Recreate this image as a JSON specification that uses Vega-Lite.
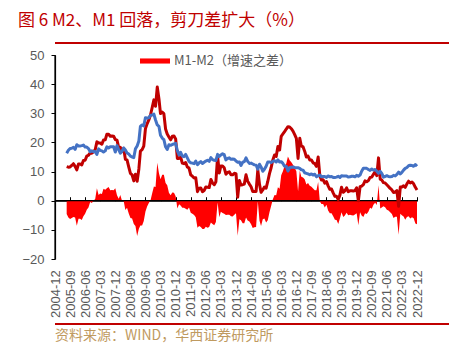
{
"$schema": "https://vega.github.io/schema/vega-lite/v6.json",
"background": "white",
"padding": {"left": 16, "top": 12, "right": 10, "bottom": 5},
"title": {"text": "图 6 M2、M1 回落，剪刀差扩大（%）", "anchor": "start", "frame": "bounds", "font": "Noto Sans CJK SC", "fontSize": 17, "fontWeight": "normal", "color": "#C00000", "offset": 12, "dx": 2},
"spacing": 5,
"datasets": {"money": [
{"d":"2005-07-01","m1":11.7,"m2":16.3,"s":-4.6},
{"d":"2005-08-01","m1":11.5,"m2":17.3,"s":-5.8},
{"d":"2005-09-01","m1":11.6,"m2":17.9,"s":-6.3},
{"d":"2005-10-01","m1":12.1,"m2":18.0,"s":-5.9},
{"d":"2005-11-01","m1":12.7,"m2":18.3,"s":-5.6},
{"d":"2005-12-01","m1":11.8,"m2":17.6,"s":-5.8},
{"d":"2006-01-01","m1":10.6,"m2":19.2,"s":-8.6},
{"d":"2006-02-01","m1":12.6,"m2":18.8,"s":-6.2},
{"d":"2006-03-01","m1":12.6,"m2":18.8,"s":-6.2},
{"d":"2006-04-01","m1":12.3,"m2":18.9,"s":-6.6},
{"d":"2006-05-01","m1":13.8,"m2":19.1,"s":-5.3},
{"d":"2006-06-01","m1":13.9,"m2":18.4,"s":-4.5},
{"d":"2006-07-01","m1":15.3,"m2":18.4,"s":-3.1},
{"d":"2006-08-01","m1":15.6,"m2":17.9,"s":-2.3},
{"d":"2006-09-01","m1":16.4,"m2":16.8,"s":-0.4},
{"d":"2006-10-01","m1":16.3,"m2":17.1,"s":-0.8},
{"d":"2006-11-01","m1":16.8,"m2":16.8,"s":0.0},
{"d":"2006-12-01","m1":17.5,"m2":16.9,"s":0.6},
{"d":"2007-01-01","m1":20.2,"m2":15.9,"s":4.3},
{"d":"2007-02-01","m1":19.8,"m2":17.8,"s":2.0},
{"d":"2007-03-01","m1":19.8,"m2":17.3,"s":2.5},
{"d":"2007-04-01","m1":19.4,"m2":17.1,"s":2.3},
{"d":"2007-05-01","m1":20.8,"m2":16.7,"s":4.1},
{"d":"2007-06-01","m1":20.9,"m2":17.1,"s":3.8},
{"d":"2007-07-01","m1":22.8,"m2":18.5,"s":4.3},
{"d":"2007-08-01","m1":22.8,"m2":18.1,"s":4.7},
{"d":"2007-09-01","m1":22.1,"m2":18.5,"s":3.6},
{"d":"2007-10-01","m1":22.2,"m2":18.5,"s":3.7},
{"d":"2007-11-01","m1":22.1,"m2":18.5,"s":3.6},
{"d":"2007-12-01","m1":21.0,"m2":16.7,"s":4.3},
{"d":"2008-01-01","m1":20.8,"m2":18.9,"s":1.9},
{"d":"2008-02-01","m1":18.2,"m2":17.5,"s":0.7},
{"d":"2008-03-01","m1":18.3,"m2":16.3,"s":2.0},
{"d":"2008-04-01","m1":16.9,"m2":16.9,"s":0.0},
{"d":"2008-05-01","m1":18.0,"m2":18.1,"s":-0.1},
{"d":"2008-06-01","m1":14.2,"m2":17.4,"s":-3.2},
{"d":"2008-07-01","m1":14.0,"m2":16.4,"s":-2.4},
{"d":"2008-08-01","m1":11.6,"m2":16.0,"s":-4.4},
{"d":"2008-09-01","m1":9.4,"m2":15.3,"s":-5.9},
{"d":"2008-10-01","m1":8.9,"m2":15.0,"s":-6.1},
{"d":"2008-11-01","m1":6.8,"m2":14.8,"s":-8.0},
{"d":"2008-12-01","m1":9.1,"m2":17.8,"s":-8.7},
{"d":"2009-01-01","m1":6.7,"m2":18.8,"s":-12.1},
{"d":"2009-02-01","m1":10.9,"m2":20.5,"s":-9.6},
{"d":"2009-03-01","m1":17.0,"m2":25.5,"s":-8.5},
{"d":"2009-04-01","m1":17.5,"m2":26.0,"s":-8.5},
{"d":"2009-05-01","m1":18.7,"m2":25.7,"s":-7.0},
{"d":"2009-06-01","m1":24.8,"m2":28.5,"s":-3.7},
{"d":"2009-07-01","m1":26.4,"m2":28.4,"s":-2.0},
{"d":"2009-08-01","m1":27.7,"m2":28.5,"s":-0.8},
{"d":"2009-09-01","m1":29.5,"m2":29.3,"s":0.2},
{"d":"2009-10-01","m1":32.0,"m2":29.4,"s":2.6},
{"d":"2009-11-01","m1":34.6,"m2":29.7,"s":4.9},
{"d":"2009-12-01","m1":32.4,"m2":27.7,"s":4.7},
{"d":"2010-01-01","m1":39.0,"m2":26.0,"s":13.0},
{"d":"2010-02-01","m1":34.9,"m2":25.5,"s":9.4},
{"d":"2010-03-01","m1":29.9,"m2":22.5,"s":7.4},
{"d":"2010-04-01","m1":30.4,"m2":21.5,"s":8.9},
{"d":"2010-05-01","m1":29.9,"m2":21.0,"s":8.9},
{"d":"2010-06-01","m1":24.6,"m2":18.5,"s":6.1},
{"d":"2010-07-01","m1":22.9,"m2":17.6,"s":5.3},
{"d":"2010-08-01","m1":21.9,"m2":19.2,"s":2.7},
{"d":"2010-09-01","m1":20.9,"m2":19.0,"s":1.9},
{"d":"2010-10-01","m1":22.1,"m2":19.3,"s":2.8},
{"d":"2010-11-01","m1":22.2,"m2":19.5,"s":2.7},
{"d":"2010-12-01","m1":21.2,"m2":19.7,"s":1.5},
{"d":"2011-01-01","m1":14.5,"m2":17.2,"s":-2.7},
{"d":"2011-02-01","m1":14.5,"m2":15.7,"s":-1.2},
{"d":"2011-03-01","m1":15.0,"m2":16.6,"s":-1.6},
{"d":"2011-04-01","m1":12.9,"m2":15.3,"s":-2.4},
{"d":"2011-05-01","m1":12.7,"m2":15.1,"s":-2.4},
{"d":"2011-06-01","m1":13.1,"m2":15.9,"s":-2.8},
{"d":"2011-07-01","m1":11.6,"m2":14.7,"s":-3.1},
{"d":"2011-08-01","m1":11.2,"m2":13.5,"s":-2.3},
{"d":"2011-09-01","m1":8.9,"m2":13.0,"s":-4.1},
{"d":"2011-10-01","m1":8.4,"m2":12.9,"s":-4.5},
{"d":"2011-11-01","m1":7.8,"m2":12.7,"s":-4.9},
{"d":"2011-12-01","m1":7.9,"m2":13.6,"s":-5.7},
{"d":"2012-01-01","m1":3.1,"m2":12.4,"s":-9.3},
{"d":"2012-02-01","m1":4.3,"m2":13.0,"s":-8.7},
{"d":"2012-03-01","m1":4.4,"m2":13.4,"s":-9.0},
{"d":"2012-04-01","m1":3.1,"m2":12.8,"s":-9.7},
{"d":"2012-05-01","m1":3.5,"m2":13.2,"s":-9.7},
{"d":"2012-06-01","m1":4.7,"m2":13.6,"s":-8.9},
{"d":"2012-07-01","m1":4.6,"m2":13.9,"s":-9.3},
{"d":"2012-08-01","m1":4.5,"m2":13.5,"s":-9.0},
{"d":"2012-09-01","m1":7.3,"m2":14.8,"s":-7.5},
{"d":"2012-10-01","m1":6.1,"m2":14.1,"s":-8.0},
{"d":"2012-11-01","m1":5.5,"m2":13.9,"s":-8.4},
{"d":"2012-12-01","m1":6.5,"m2":13.8,"s":-7.3},
{"d":"2013-01-01","m1":15.3,"m2":15.9,"s":-0.6},
{"d":"2013-02-01","m1":9.5,"m2":15.2,"s":-5.7},
{"d":"2013-03-01","m1":11.9,"m2":15.7,"s":-3.8},
{"d":"2013-04-01","m1":11.9,"m2":16.1,"s":-4.2},
{"d":"2013-05-01","m1":11.3,"m2":15.8,"s":-4.5},
{"d":"2013-06-01","m1":9.1,"m2":14.0,"s":-4.9},
{"d":"2013-07-01","m1":9.7,"m2":14.5,"s":-4.8},
{"d":"2013-08-01","m1":9.9,"m2":14.7,"s":-4.8},
{"d":"2013-09-01","m1":8.9,"m2":14.2,"s":-5.3},
{"d":"2013-10-01","m1":8.9,"m2":14.3,"s":-5.4},
{"d":"2013-11-01","m1":9.4,"m2":14.2,"s":-4.8},
{"d":"2013-12-01","m1":9.3,"m2":13.6,"s":-4.3},
{"d":"2014-01-01","m1":1.2,"m2":13.2,"s":-12.0},
{"d":"2014-02-01","m1":6.9,"m2":13.3,"s":-6.4},
{"d":"2014-03-01","m1":5.4,"m2":12.1,"s":-6.7},
{"d":"2014-04-01","m1":5.5,"m2":13.2,"s":-7.7},
{"d":"2014-05-01","m1":5.7,"m2":13.4,"s":-7.7},
{"d":"2014-06-01","m1":8.9,"m2":14.7,"s":-5.8},
{"d":"2014-07-01","m1":6.7,"m2":13.5,"s":-6.8},
{"d":"2014-08-01","m1":5.7,"m2":12.8,"s":-7.1},
{"d":"2014-09-01","m1":4.8,"m2":12.9,"s":-8.1},
{"d":"2014-10-01","m1":3.2,"m2":12.6,"s":-9.4},
{"d":"2014-11-01","m1":3.2,"m2":12.3,"s":-9.1},
{"d":"2014-12-01","m1":3.2,"m2":12.2,"s":-9.0},
{"d":"2015-01-01","m1":10.6,"m2":10.8,"s":-0.2},
{"d":"2015-02-01","m1":5.6,"m2":12.5,"s":-6.9},
{"d":"2015-03-01","m1":2.9,"m2":11.6,"s":-8.7},
{"d":"2015-04-01","m1":3.7,"m2":10.1,"s":-6.4},
{"d":"2015-05-01","m1":4.7,"m2":10.8,"s":-6.1},
{"d":"2015-06-01","m1":4.3,"m2":11.8,"s":-7.5},
{"d":"2015-07-01","m1":6.6,"m2":13.3,"s":-6.7},
{"d":"2015-08-01","m1":9.3,"m2":13.3,"s":-4.0},
{"d":"2015-09-01","m1":11.4,"m2":13.1,"s":-1.7},
{"d":"2015-10-01","m1":14.0,"m2":13.5,"s":0.5},
{"d":"2015-11-01","m1":15.7,"m2":13.7,"s":2.0},
{"d":"2015-12-01","m1":15.2,"m2":13.3,"s":1.9},
{"d":"2016-01-01","m1":18.6,"m2":14.0,"s":4.6},
{"d":"2016-02-01","m1":17.4,"m2":13.3,"s":4.1},
{"d":"2016-03-01","m1":22.1,"m2":13.4,"s":8.7},
{"d":"2016-04-01","m1":22.9,"m2":12.8,"s":10.1},
{"d":"2016-05-01","m1":23.7,"m2":11.8,"s":11.9},
{"d":"2016-06-01","m1":24.6,"m2":11.8,"s":12.8},
{"d":"2016-07-01","m1":25.4,"m2":10.2,"s":15.2},
{"d":"2016-08-01","m1":25.3,"m2":11.4,"s":13.9},
{"d":"2016-09-01","m1":24.7,"m2":11.5,"s":13.2},
{"d":"2016-10-01","m1":23.9,"m2":11.6,"s":12.3},
{"d":"2016-11-01","m1":22.7,"m2":11.4,"s":11.3},
{"d":"2016-12-01","m1":21.4,"m2":11.3,"s":10.1},
{"d":"2017-01-01","m1":14.5,"m2":11.3,"s":3.2},
{"d":"2017-02-01","m1":21.4,"m2":11.1,"s":10.3},
{"d":"2017-03-01","m1":18.8,"m2":10.6,"s":8.2},
{"d":"2017-04-01","m1":18.5,"m2":10.5,"s":8.0},
{"d":"2017-05-01","m1":17.0,"m2":9.6,"s":7.4},
{"d":"2017-06-01","m1":15.0,"m2":9.4,"s":5.6},
{"d":"2017-07-01","m1":15.3,"m2":9.2,"s":6.1},
{"d":"2017-08-01","m1":14.0,"m2":8.9,"s":5.1},
{"d":"2017-09-01","m1":14.0,"m2":9.2,"s":4.8},
{"d":"2017-10-01","m1":13.0,"m2":8.8,"s":4.2},
{"d":"2017-11-01","m1":12.7,"m2":9.1,"s":3.6},
{"d":"2017-12-01","m1":11.8,"m2":8.2,"s":3.6},
{"d":"2018-01-01","m1":15.0,"m2":8.6,"s":6.4},
{"d":"2018-02-01","m1":8.5,"m2":8.8,"s":-0.3},
{"d":"2018-03-01","m1":7.1,"m2":8.2,"s":-1.1},
{"d":"2018-04-01","m1":7.2,"m2":8.3,"s":-1.1},
{"d":"2018-05-01","m1":6.0,"m2":8.3,"s":-2.3},
{"d":"2018-06-01","m1":6.6,"m2":8.0,"s":-1.4},
{"d":"2018-07-01","m1":5.1,"m2":8.5,"s":-3.4},
{"d":"2018-08-01","m1":3.9,"m2":8.2,"s":-4.3},
{"d":"2018-09-01","m1":4.0,"m2":8.3,"s":-4.3},
{"d":"2018-10-01","m1":2.7,"m2":8.0,"s":-5.3},
{"d":"2018-11-01","m1":1.5,"m2":8.0,"s":-6.5},
{"d":"2018-12-01","m1":1.5,"m2":8.1,"s":-6.6},
{"d":"2019-01-01","m1":0.4,"m2":8.4,"s":-8.0},
{"d":"2019-02-01","m1":2.0,"m2":8.0,"s":-6.0},
{"d":"2019-03-01","m1":4.6,"m2":8.6,"s":-4.0},
{"d":"2019-04-01","m1":2.9,"m2":8.5,"s":-5.6},
{"d":"2019-05-01","m1":3.4,"m2":8.5,"s":-5.1},
{"d":"2019-06-01","m1":4.4,"m2":8.5,"s":-4.1},
{"d":"2019-07-01","m1":3.1,"m2":8.1,"s":-5.0},
{"d":"2019-08-01","m1":3.4,"m2":8.2,"s":-4.8},
{"d":"2019-09-01","m1":3.4,"m2":8.4,"s":-5.0},
{"d":"2019-10-01","m1":3.3,"m2":8.4,"s":-5.1},
{"d":"2019-11-01","m1":3.5,"m2":8.2,"s":-4.7},
{"d":"2019-12-01","m1":4.4,"m2":8.7,"s":-4.3},
{"d":"2020-01-01","m1":0.0,"m2":8.4,"s":-8.4},
{"d":"2020-02-01","m1":4.8,"m2":8.8,"s":-4.0},
{"d":"2020-03-01","m1":5.0,"m2":10.1,"s":-5.1},
{"d":"2020-04-01","m1":5.5,"m2":11.1,"s":-5.6},
{"d":"2020-05-01","m1":6.8,"m2":11.1,"s":-4.3},
{"d":"2020-06-01","m1":6.5,"m2":11.1,"s":-4.6},
{"d":"2020-07-01","m1":6.9,"m2":10.7,"s":-3.8},
{"d":"2020-08-01","m1":8.0,"m2":10.4,"s":-2.4},
{"d":"2020-09-01","m1":8.1,"m2":10.9,"s":-2.8},
{"d":"2020-10-01","m1":9.1,"m2":10.5,"s":-1.4},
{"d":"2020-11-01","m1":10.0,"m2":10.7,"s":-0.7},
{"d":"2020-12-01","m1":8.6,"m2":10.1,"s":-1.5},
{"d":"2021-01-01","m1":14.7,"m2":9.4,"s":5.3},
{"d":"2021-02-01","m1":7.4,"m2":10.1,"s":-2.7},
{"d":"2021-03-01","m1":7.1,"m2":9.4,"s":-2.3},
{"d":"2021-04-01","m1":6.2,"m2":8.1,"s":-1.9},
{"d":"2021-05-01","m1":6.1,"m2":8.3,"s":-2.2},
{"d":"2021-06-01","m1":5.5,"m2":8.6,"s":-3.1},
{"d":"2021-07-01","m1":4.9,"m2":8.3,"s":-3.4},
{"d":"2021-08-01","m1":4.2,"m2":8.2,"s":-4.0},
{"d":"2021-09-01","m1":3.7,"m2":8.3,"s":-4.6},
{"d":"2021-10-01","m1":2.8,"m2":8.7,"s":-5.9},
{"d":"2021-11-01","m1":3.0,"m2":8.5,"s":-5.5},
{"d":"2021-12-01","m1":3.5,"m2":9.0,"s":-5.5},
{"d":"2022-01-01","m1":-1.9,"m2":9.8,"s":-11.7},
{"d":"2022-02-01","m1":4.7,"m2":9.2,"s":-4.5},
{"d":"2022-03-01","m1":4.7,"m2":9.7,"s":-5.0},
{"d":"2022-04-01","m1":5.1,"m2":10.5,"s":-5.4},
{"d":"2022-05-01","m1":4.6,"m2":11.1,"s":-6.5},
{"d":"2022-06-01","m1":5.8,"m2":11.4,"s":-5.6},
{"d":"2022-07-01","m1":6.7,"m2":12.0,"s":-5.3},
{"d":"2022-08-01","m1":6.1,"m2":12.2,"s":-6.1},
{"d":"2022-09-01","m1":6.4,"m2":12.1,"s":-5.7},
{"d":"2022-10-01","m1":5.8,"m2":11.8,"s":-6.0},
{"d":"2022-11-01","m1":4.6,"m2":12.4,"s":-7.8},
{"d":"2022-12-01","m1":3.7,"m2":11.8,"s":-8.1}
]},
"vconcat": [
{"width": 415, "height": 2, "view": {"fill": "#C00000", "stroke": null}, "data": {"values": []}, "mark": {"type": "rule"}, "encoding": {}},
{
"width": 362, "height": 204,
"resolve": {"axis": {"x": "independent", "y": "independent"}},
"layer": [
{"data": {"name": "money"},
 "mark": {"type": "area", "color": "#FF0000", "opacity": 1},
 "encoding": {
  "x": {"field": "d", "type": "temporal",
    "scale": {"type": "utc", "domain": [{"year": 2004, "month": 12, "date": 1, "utc": true}, {"year": 2022, "month": 12, "date": 1, "utc": true}]},
    "axis": {"format": "%Y-%m", "title": null,
      "values": [{"year":2004,"month":12,"date":1,"utc":true},{"year":2005,"month":9,"date":1,"utc":true},{"year":2006,"month":6,"date":1,"utc":true},{"year":2007,"month":3,"date":1,"utc":true},{"year":2007,"month":12,"date":1,"utc":true},{"year":2008,"month":9,"date":1,"utc":true},{"year":2009,"month":6,"date":1,"utc":true},{"year":2010,"month":3,"date":1,"utc":true},{"year":2010,"month":12,"date":1,"utc":true},{"year":2011,"month":9,"date":1,"utc":true},{"year":2012,"month":6,"date":1,"utc":true},{"year":2013,"month":3,"date":1,"utc":true},{"year":2013,"month":12,"date":1,"utc":true},{"year":2014,"month":9,"date":1,"utc":true},{"year":2015,"month":6,"date":1,"utc":true},{"year":2016,"month":3,"date":1,"utc":true},{"year":2016,"month":12,"date":1,"utc":true},{"year":2017,"month":9,"date":1,"utc":true},{"year":2018,"month":6,"date":1,"utc":true},{"year":2019,"month":3,"date":1,"utc":true},{"year":2019,"month":12,"date":1,"utc":true},{"year":2020,"month":9,"date":1,"utc":true},{"year":2021,"month":6,"date":1,"utc":true},{"year":2022,"month":3,"date":1,"utc":true},{"year":2022,"month":12,"date":1,"utc":true}]}},
  "y": {"field": "s", "type": "quantitative", "scale": {"domain": [-20, 50], "nice": false, "zero": false},
    "axis": {"values": [-20, -10, 0, 10, 20, 30, 40, 50], "title": null}},
  "color": {"datum": "M1-M2（增速之差）", "type": "nominal", "scale": {"range": ["#FF0000"]},
    "legend": {"orient": "none", "legendX": 85, "legendY": 4, "title": null, "padding": 0, "symbolType": "M-1,-0.17H1V0.17H-1Z", "symbolSize": 900, "symbolStrokeWidth": 0, "symbolOpacity": 1, "labelFontSize": 13, "labelFont": "Noto Sans CJK SC", "labelColor": "#595959", "labelOffset": 4}}
 }},
{"data": {"values": [{}]},
 "mark": {"type": "rule", "color": "#000000", "strokeWidth": 1.2},
 "encoding": {"y": {"datum": 0, "type": "quantitative", "axis": null}}},
{"data": {"values": [{}]},
 "mark": {"type": "rule", "color": "#000000", "strokeWidth": 1.2},
 "encoding": {"x": {"datum": {"year": 2004, "month": 12, "date": 1, "utc": true}, "type": "temporal", "axis": null}}},
{"data": {"name": "money"},
 "mark": {"type": "line", "color": "#C00000", "strokeWidth": 3, "strokeJoin": "round"},
 "encoding": {
  "x": {"field": "d", "type": "temporal", "axis": null},
  "y": {"field": "m1", "type": "quantitative", "axis": null}
 }},
{"data": {"name": "money"},
 "mark": {"type": "line", "color": "#4472C4", "strokeWidth": 3, "strokeJoin": "round"},
 "encoding": {
  "x": {"field": "d", "type": "temporal", "axis": null},
  "y": {"field": "m2", "type": "quantitative", "axis": null}
 }}
]
},
{"width": 415, "height": 2, "view": {"fill": "#C00000", "stroke": null}, "data": {"values": []}, "mark": {"type": "rule"}, "encoding": {},
 "title": {"text": "资料来源：WIND，华西证券研究所", "orient": "bottom", "anchor": "start", "frame": "bounds", "font": "Noto Sans CJK SC", "fontSize": 14, "fontWeight": "normal", "color": "#BF9A60", "offset": 4}}
],
"config": {
  "view": {"stroke": null},
  "font": "Liberation Sans",
  "axis": {"grid": false, "domain": true, "domainColor": "#000000", "domainWidth": 1.2, "ticks": true, "tickColor": "#000000", "labelFont": "Liberation Sans", "labelFontSize": 13, "labelColor": "#595959", "labelOverlap": false, "labelFlush": false, "labelBound": false},
  "axisX": {"orient": "bottom", "offset": -58.286, "labelAngle": -90, "labelPadding": 73, "tickSize": -4},
  "axisY": {"tickSize": 4, "labelPadding": 7, "minExtent": 39}
}
}
